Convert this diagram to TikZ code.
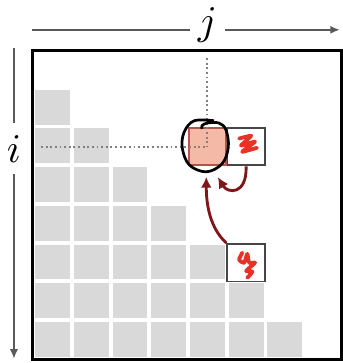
\documentclass[tikz,border=0pt]{standalone}
\usepackage{xcolor}
\usetikzlibrary{arrows.meta,positioning}
\definecolor{cellgray}{RGB}{217,217,217}
\definecolor{curfill}{RGB}{245,186,166}
\definecolor{curedge}{RGB}{175,85,75}
\definecolor{arrred}{RGB}{128,22,26}
\definecolor{scrred}{RGB}{233,50,38}
\definecolor{boxedge}{RGB}{70,70,70}

\begin{document}
\begin{tikzpicture}[
    box/.style={draw=boxedge, line width=1.4pt, fill=white, minimum size=0.97cm, inner sep=0},
    scribble/.style={scrred, line width=2.8pt, line cap=round, line join=round},
    dep/.style={arrred, line width=2.1pt, -{Latex[length=8pt,width=8pt]}},
    axis/.style={black!65, line width=1.3pt},
    axlabel/.style={scale=3, inner sep=0}]
  \useasboundingbox (-0.83,-0.08) rectangle (8.02,9.30);

  % gray cells, row k holds 7-k of them
  \foreach \k in {0,...,6}{
    \pgfmathtruncatemacro{\last}{6-\k}
    \foreach \c in {0,...,\last}
      \fill[cellgray] (\c+0.08,\k+0.08) rectangle ++(0.9,0.9);
  }

  % frame
  \draw[line width=2.1pt] (0,0) rectangle (8,8);

  % boxes
  \node[box] (zbox) at (5.53,5.51) {};
  \node[box] (ybox) at (5.53,2.51) {};
  \node[box, draw=curedge, fill=curfill] (cur) at (4.53,5.51) {};

  % dotted guides
  \coordinate (rowstart) at (0.23,5.51);
  \coordinate (colstart) at (4.53,7.8);
  \draw[dotted, line width=1.4pt, black!50] (rowstart) -- (cur.center);
  \draw[dotted, line width=1.4pt, black!50] (colstart) -- (cur.center);

  % scribbles
  \begin{scope}[shift={(zbox.center)}]
    \draw[scribble] plot[smooth, tension=0.3] coordinates {(-0.18,0.21) (0.13,0.28) (-0.13,0.03) (0.23,0.13) (-0.10,-0.13) (0.28,-0.03)};
  \end{scope}
  \begin{scope}[shift={(ybox.center)}]
    \draw[scribble] plot[smooth, tension=0.4] coordinates {(-0.10,0.26) (-0.18,0.08) (-0.05,0.0) (0.03,0.23) (0.08,0.0) (0.23,0.0) (0.0,-0.21) (0.16,-0.23) (0.03,-0.39)};
  \end{scope}

  % hand-drawn circle
  \draw[line width=2pt] plot[smooth, tension=0.6] coordinates {(4.70,6.18) (4.19,6.18) (3.93,5.89) (3.88,5.48) (4.06,5.04) (4.50,4.86) (4.91,5.07) (5.07,5.50) (5.01,5.94) (4.83,6.12) (4.52,6.12) (4.39,6.05) (4.39,5.97)};

  % dependencies
  \coordinate (tipA) at (4.50,4.73);
  \coordinate (tipB) at (4.80,4.72);
  \draw[dep] (ybox.north west) .. controls (4.6,3.4) and (4.5,4.0) .. (tipA);
  \draw[dep] (zbox.south) .. controls (5.55,4.25) and (5.05,4.3) .. (tipB);

  % axes
  \node[axlabel, minimum width=0.29cm] (jlab) at (4.53,8.66) {$j$};
  \coordinate (jstart) at (0,8.53);
  \coordinate (jend) at (7.95,8.53);
  \draw[axis] (jstart) -- (jstart -| jlab.west);
  \draw[axis, -{Latex[length=7pt,width=6pt]}] (jend -| jlab.east) -- (jend);

  \node[axlabel, minimum height=0.43cm] (ilab) at (-0.47,5.46) {$i$};
  \coordinate (istart) at (-0.47,8.06);
  \coordinate (iend) at (-0.47,0.03);
  \draw[axis] (istart) -- (ilab.north);
  \draw[axis, -{Latex[length=7pt,width=6pt]}] (ilab.south) -- (iend);
\end{tikzpicture}
\end{document}
